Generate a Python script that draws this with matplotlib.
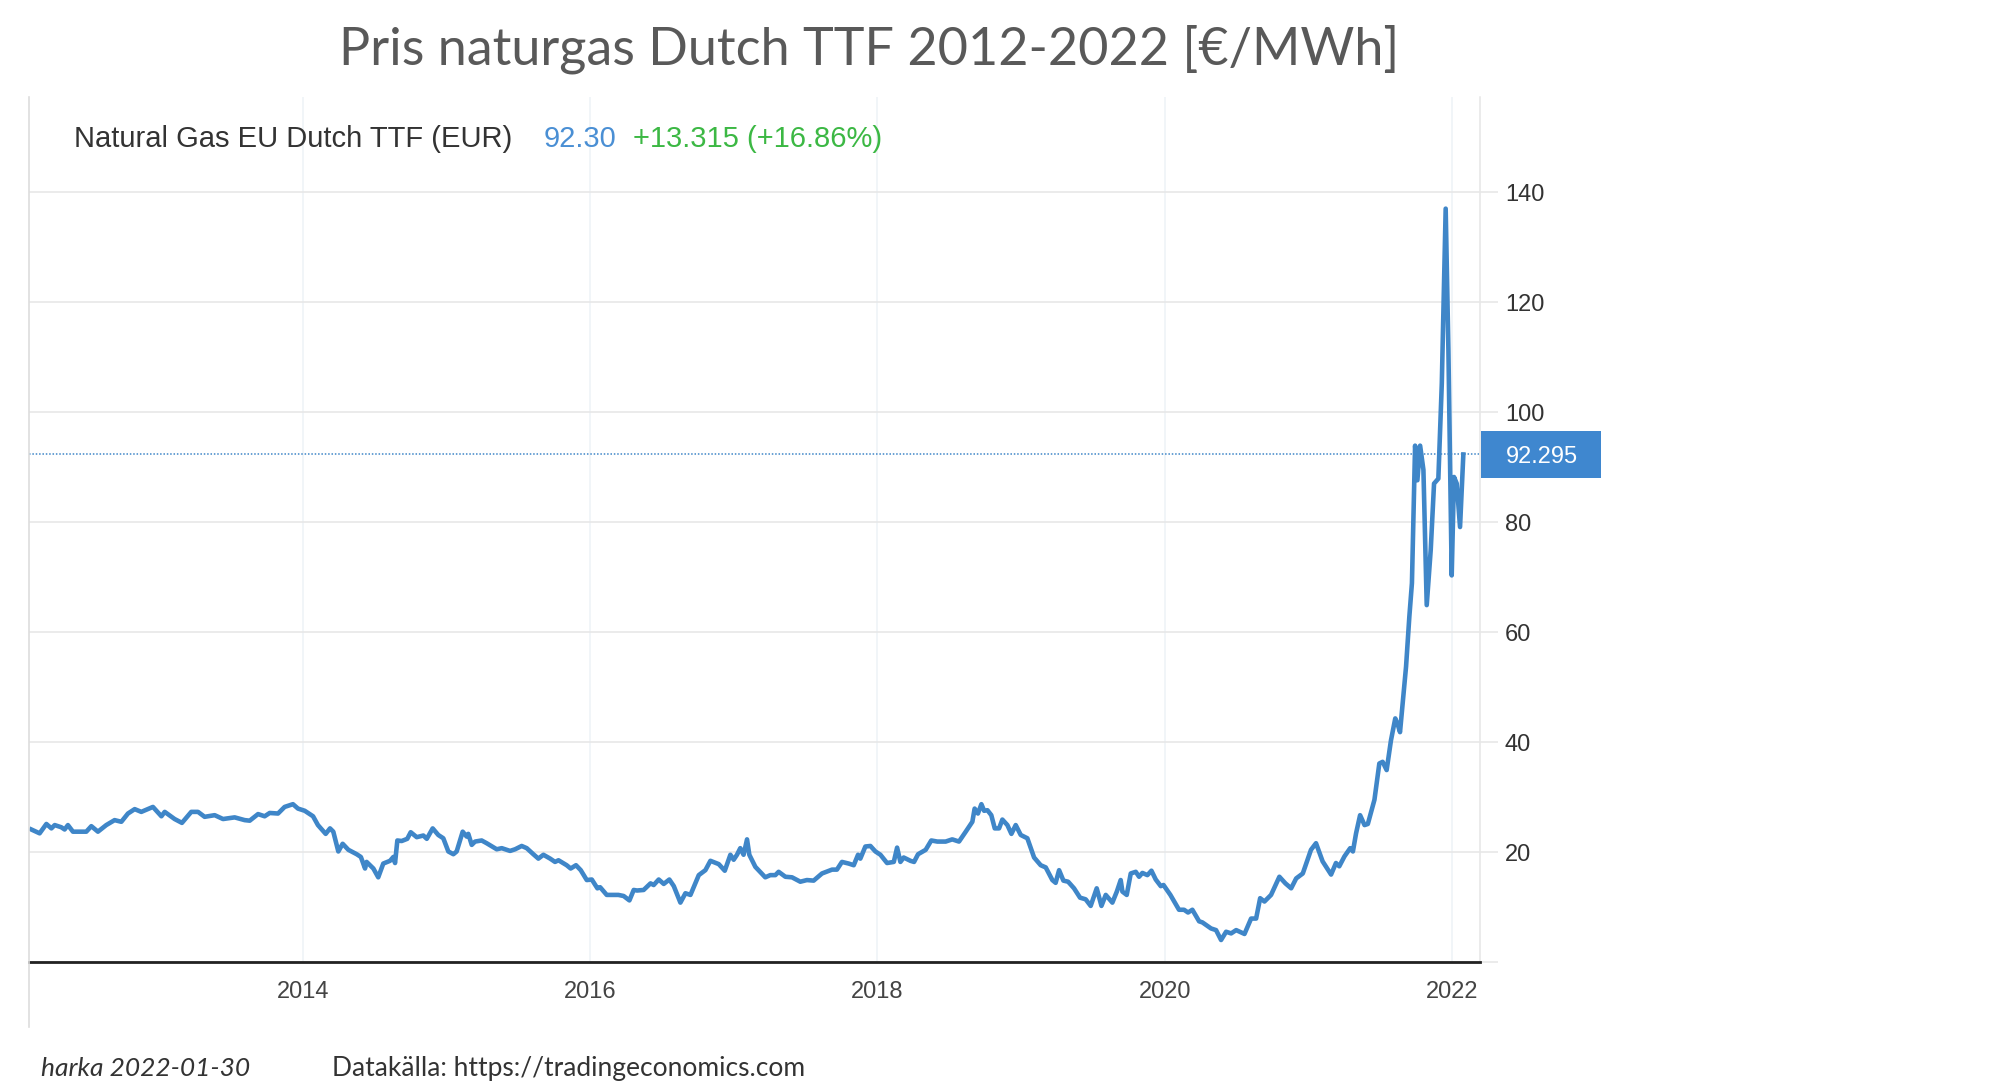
import numpy as np
import matplotlib.pyplot as plt
from matplotlib.lines import Line2D
from matplotlib.patches import Rectangle

# (decimal year, EUR/MWh), one list per period
seg_2012_2014 = [(2012.108, 24.1), (2012.166, 23.4), (2012.213, 25.1), (2012.248, 24.3), (2012.271, 24.9),
                 (2012.317, 24.5), (2012.340, 24.1), (2012.363, 24.9), (2012.398, 23.7), (2012.491, 23.7),
                 (2012.526, 24.7), (2012.572, 23.7), (2012.630, 24.9), (2012.688, 25.8), (2012.735, 25.5),
                 (2012.781, 27.0), (2012.828, 27.8), (2012.874, 27.3), (2012.955, 28.2), (2013.014, 26.5),
                 (2013.037, 27.3), (2013.106, 26.0), (2013.157, 25.3), (2013.222, 27.3), (2013.269, 27.3),
                 (2013.315, 26.4), (2013.385, 26.7), (2013.443, 26.0), (2013.524, 26.3), (2013.594, 25.8),
                 (2013.629, 25.7), (2013.687, 26.9), (2013.733, 26.5), (2013.768, 27.1), (2013.826, 27.0),
                 (2013.872, 28.2), (2013.930, 28.7), (2013.965, 27.9), (2014.012, 27.5), (2014.070, 26.5),
                 (2014.104, 24.9), (2014.158, 23.3)]

seg_2014_2016 = [(2014.188, 24.3), (2014.211, 23.7), (2014.246, 20.1), (2014.276, 21.5), (2014.316, 20.4),
                 (2014.374, 19.6), (2014.403, 19.1), (2014.432, 17.0), (2014.443, 18.2), (2014.490, 17.0),
                 (2014.524, 15.4), (2014.559, 17.9), (2014.606, 18.4), (2014.629, 19.1), (2014.641, 18.0),
                 (2014.657, 22.1), (2014.687, 22.0), (2014.726, 22.4), (2014.750, 23.6), (2014.792, 22.7),
                 (2014.838, 23.0), (2014.862, 22.4), (2014.903, 24.3), (2014.942, 23.1), (2014.977, 22.5),
                 (2015.012, 20.1), (2015.047, 19.6), (2015.070, 20.1), (2015.112, 23.7), (2015.140, 22.8),
                 (2015.151, 23.3), (2015.175, 21.3), (2015.198, 21.9), (2015.244, 22.1), (2015.279, 21.6),
                 (2015.349, 20.5), (2015.384, 20.7), (2015.442, 20.2), (2015.477, 20.5), (2015.523, 21.1),
                 (2015.558, 20.7), (2015.604, 19.6), (2015.639, 18.8), (2015.674, 19.5), (2015.721, 18.8),
                 (2015.755, 18.2), (2015.779, 18.5), (2015.836, 17.6), (2015.864, 17.0), (2015.901, 17.6),
                 (2015.934, 16.7), (2015.976, 14.9), (2016.011, 15.0), (2016.050, 13.4), (2016.069, 13.6),
                 (2016.115, 12.2), (2016.196, 12.2)]

seg_2016_2018 = [(2016.233, 12.0), (2016.273, 11.2), (2016.303, 13.1), (2016.326, 13.0), (2016.372, 13.1),
                 (2016.420, 14.3), (2016.442, 14.0), (2016.477, 15.0), (2016.512, 14.2), (2016.551, 15.0),
                 (2016.582, 13.8), (2016.628, 10.8), (2016.663, 12.5), (2016.698, 12.2), (2016.756, 15.8),
                 (2016.802, 16.7), (2016.837, 18.4), (2016.895, 17.8), (2016.937, 16.6), (2016.976, 19.5),
                 (2016.999, 18.6), (2017.022, 19.5), (2017.045, 20.7), (2017.068, 19.5), (2017.092, 22.3),
                 (2017.108, 19.5), (2017.150, 17.3), (2017.219, 15.4), (2017.254, 15.8), (2017.289, 15.8),
                 (2017.312, 16.4), (2017.359, 15.5), (2017.405, 15.4), (2017.463, 14.6), (2017.509, 14.9),
                 (2017.556, 14.8), (2017.614, 16.1), (2017.684, 16.8), (2017.718, 16.8), (2017.753, 18.2),
                 (2017.800, 17.9), (2017.835, 17.6), (2017.865, 19.5), (2017.881, 18.8), (2017.916, 21.0),
                 (2017.951, 21.1), (2017.986, 20.1), (2018.021, 19.5), (2018.067, 18.0), (2018.114, 18.2),
                 (2018.137, 20.8), (2018.160, 18.2), (2018.183, 19.0), (2018.230, 18.4)]

seg_2018_2020 = [(2018.255, 18.2), (2018.283, 19.6), (2018.336, 20.4), (2018.375, 22.1), (2018.417, 21.9),
                 (2018.475, 21.9), (2018.521, 22.3), (2018.568, 21.9), (2018.615, 23.7), (2018.661, 25.5),
                 (2018.677, 27.9), (2018.700, 27.0), (2018.724, 28.7), (2018.743, 27.5), (2018.766, 27.6),
                 (2018.793, 26.7), (2018.817, 24.3), (2018.847, 24.3), (2018.870, 25.9), (2018.905, 24.9),
                 (2018.933, 23.3), (2018.963, 24.9), (2018.998, 23.1), (2019.044, 22.5), (2019.091, 19.0),
                 (2019.137, 17.6), (2019.172, 17.2), (2019.218, 14.9), (2019.241, 14.4), (2019.265, 16.7),
                 (2019.295, 14.8), (2019.328, 14.6), (2019.369, 13.4), (2019.411, 11.7), (2019.450, 11.4),
                 (2019.485, 10.2), (2019.527, 13.4), (2019.560, 10.2), (2019.590, 12.2), (2019.636, 10.8),
                 (2019.667, 12.8), (2019.694, 14.9), (2019.706, 12.8), (2019.736, 12.2), (2019.764, 16.1),
                 (2019.799, 16.4), (2019.822, 15.5), (2019.845, 16.2), (2019.880, 15.8), (2019.908, 16.6),
                 (2019.938, 15.0), (2019.973, 13.8), (2019.992, 14.0), (2020.040, 12.2), (2020.100, 9.5),
                 (2020.135, 9.5), (2020.163, 9.0), (2020.193, 9.5), (2020.240, 7.4), (2020.263, 7.2)]

seg_2020_2021 = [(2020.323, 6.1), (2020.358, 5.8), (2020.393, 4.0), (2020.428, 5.5), (2020.463, 5.2),
                 (2020.498, 5.8), (2020.556, 5.1), (2020.602, 7.9), (2020.637, 7.9), (2020.665, 11.6),
                 (2020.695, 11.0), (2020.741, 12.2), (2020.799, 15.5), (2020.841, 14.3), (2020.881, 13.4),
                 (2020.916, 15.2), (2020.962, 16.1), (2021.019, 20.4), (2021.054, 21.6), (2021.100, 18.3),
                 (2021.159, 15.9), (2021.193, 18.0), (2021.216, 17.4), (2021.252, 19.2), (2021.292, 20.7),
                 (2021.311, 20.1), (2021.333, 23.4), (2021.361, 26.7), (2021.392, 24.9), (2021.415, 25.1),
                 (2021.461, 29.5), (2021.495, 36.1), (2021.518, 36.4), (2021.546, 34.9), (2021.576, 40.3),
                 (2021.606, 44.3), (2021.622, 43.3), (2021.639, 41.8), (2021.657, 46.9), (2021.681, 53.7),
                 (2021.704, 62.8)]

seg_2021_2022 = [(2021.722, 68.9), (2021.744, 93.9), (2021.760, 87.6), (2021.779, 93.9), (2021.802, 89.5),
                 (2021.825, 64.9), (2021.853, 75.0), (2021.876, 87.0), (2021.906, 87.9), (2021.930, 105.2),
                 (2021.957, 137.0), (2021.976, 111.3), (2021.999, 70.3), (2022.015, 88.2), (2022.034, 87.0),
                 (2022.057, 79.1), (2022.080, 92.295)]

year_ticks = [2014, 2016, 2018, 2020, 2022]
price_ticks = [0, 20, 40, 60, 80, 100, 120, 140]

title = "Pris naturgas Dutch TTF 2012-2022 [€/MWh]"
series_name = "Natural Gas EU Dutch TTF (EUR)"
last_txt = "92.30"
change_txt = "+13.315 (+16.86%)"
footer_left = "harka 2022-01-30"
footer_right = "Datakälla: https://tradingeconomics.com"

pts = np.array(seg_2012_2014 + seg_2014_2016 + seg_2016_2018 + seg_2018_2020 + seg_2020_2021 + seg_2021_2022)
t = pts[:, 0]
p = pts[:, 1]

#----------------------------------------------------------------
W, H = 1999, 1092
def fx(px):
    return px / W
def fy(py):
    return 1 - py / H

blue = "#3f86c8"
grid_c = "#e6e6e6"

fig = plt.figure(figsize=(W / 100, H / 100), dpi=100)
ax = fig.add_axes([fx(29), fy(962), fx(1480) - fx(29), fy(97) - fy(962)])

ax.plot(t, p, color=blue, lw=3.3, solid_joinstyle="round", zorder=3)
ax.axhline(p[-1], color=blue, ls=(0, (1, 1.2)), lw=1.1, zorder=2)

ax.set_xlim(2012.092, 2022.196)
ax.set_ylim(0, 157.3)

ax.set_xticks(year_ticks)
ax.set_xticklabels([str(y) for y in year_ticks])
ax.set_yticks(price_ticks)
ax.set_yticklabels(["" if v == 0 else str(v) for v in price_ticks])
ax.yaxis.tick_right()
ax.tick_params(axis="y", direction="out", length=13, width=1.1, color=grid_c,
               pad=5, labelsize=17, labelcolor="#333333")
ax.tick_params(axis="x", length=0, pad=14, labelsize=17, labelcolor="#444444")
for lab in ax.get_xticklabels() + ax.get_yticklabels():
    lab.set_family("Liberation Sans")

ax.grid(axis="y", color=grid_c, lw=1.1)
ax.grid(axis="x", color="#edf2f6", lw=1.1)
ax.set_axisbelow(True)

for s in ["top", "left"]:
    ax.spines[s].set_visible(False)
ax.spines["right"].set_color(grid_c)
ax.spines["right"].set_linewidth(1.1)
ax.spines["bottom"].set_color("#222222")
ax.spines["bottom"].set_linewidth(2.0)

# left frame line of the screenshot, runs below the axis
fig.add_artist(Line2D([fx(29), fx(29)], [fy(97), fy(1027)], color="#dddddd", lw=1.2))

# last price box at the right edge
tr = ax.get_yaxis_transform()
ax.add_patch(Rectangle((1.0007, p[-1] - 4.3), 0.083, 8.6, transform=tr,
                       facecolor="#3f87cf", edgecolor="none", clip_on=False, zorder=4))
ax.text(1.0427, p[-1] - 0.4, f"{p[-1]:.3f}", transform=tr, ha="center", va="center",
        color="white", fontsize=17, family="Liberation Sans", zorder=5)

# header texts
fig.text(fx(869), fy(65), title, ha="center", va="baseline", fontsize=37.5,
         color="#595959", family="Lato")
fig.text(fx(74), fy(139), series_name, ha="left", va="center", fontsize=21,
         color="#333333", family="Liberation Sans")
fig.text(fx(544), fy(139), last_txt, ha="left", va="center", fontsize=21,
         color="#4a8fd4", family="Liberation Sans")
fig.text(fx(633), fy(139), change_txt, ha="left", va="center", fontsize=21,
         color="#3cb844", family="Liberation Sans")

fig.text(fx(41), fy(1076), footer_left, ha="left", va="baseline", fontsize=19,
         color="#333333", family="Lato", style="italic")
fig.text(fx(332), fy(1076), footer_right, ha="left", va="baseline", fontsize=19,
         color="#333333", family="Lato")

fig.savefig("out.png", dpi=100)
